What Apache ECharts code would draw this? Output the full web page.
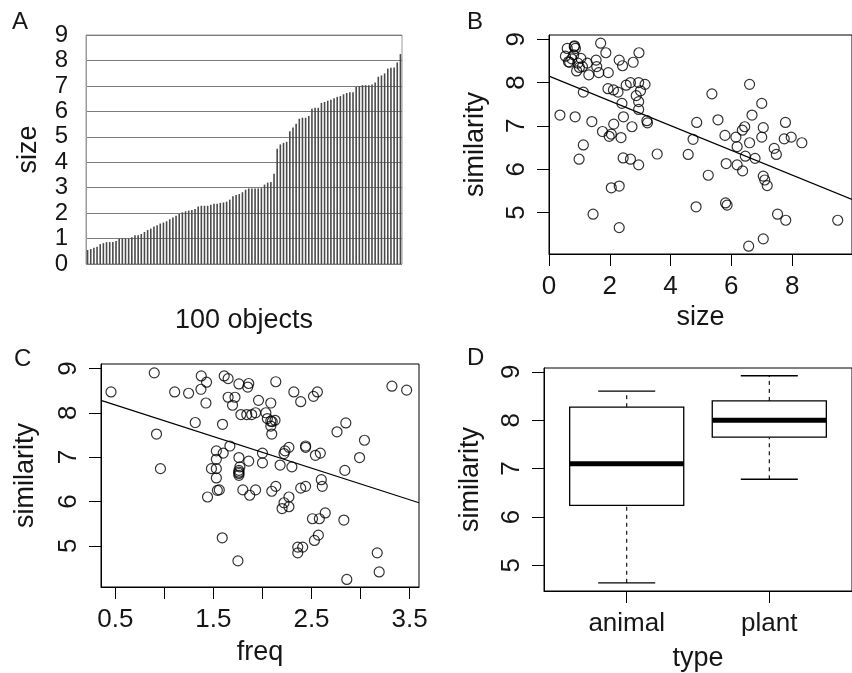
<!DOCTYPE html>
<html>
<head>
<meta charset="utf-8">
<title>similarity panels</title>
<script src="https://cdn.jsdelivr.net/npm/echarts@6/dist/echarts.min.js"></script>
<style>
  html, body { margin: 0; padding: 0; background: #fff; }
  #chart { width: 852px; height: 673px; }
</style>
</head>
<body>
<div id="chart"></div>
<script>
'use strict';

// A: size of the 100 objects, sorted
var objectSizes = [
	0.55, 0.59, 0.64, 0.68, 0.78, 0.82, 0.86, 0.86, 0.86, 0.90,
	1.00, 1.00, 1.00, 1.00, 1.05, 1.13, 1.13, 1.18, 1.26, 1.34,
	1.39, 1.47, 1.52, 1.59, 1.63, 1.68, 1.76, 1.83, 1.90, 1.97,
	2.03, 2.07, 2.10, 2.12, 2.16, 2.26, 2.29, 2.29, 2.29, 2.33,
	2.37, 2.37, 2.40, 2.42, 2.45, 2.53, 2.66, 2.71, 2.75, 2.82,
	2.92, 2.97, 2.97, 2.97, 2.97, 2.98, 3.12, 3.20, 3.22, 3.55,
	4.53, 4.70, 4.76, 4.80, 5.22, 5.36, 5.51, 5.71, 5.75, 5.75,
	5.82, 6.10, 6.14, 6.14, 6.33, 6.37, 6.42, 6.46, 6.51, 6.57,
	6.60, 6.67, 6.72, 6.75, 6.75, 6.96, 6.99, 7.03, 7.03, 7.03,
	7.05, 7.13, 7.36, 7.41, 7.49, 7.68, 7.71, 7.72, 7.92, 8.25
];

// B: similarity against size
var bSize = [
	0.60, 0.83, 0.87, 0.54, 0.64, 0.81, 1.05, 1.10, 0.91, 0.68,
	1.26, 1.31, 1.55, 1.57, 1.64, 1.70, 1.87, 1.95, 2.31, 2.42,
	2.77, 2.96, 1.13, 0.36, 0.86, 1.41, 1.13, 0.99, 1.45, 1.94,
	2.12, 2.27, 2.40, 2.54, 2.68, 2.95, 3.16, 3.01, 2.87, 2.95,
	2.95, 3.22, 3.24, 2.45, 2.73, 1.76, 2.13, 2.05, 2.37, 2.44,
	2.68, 2.95, 2.05, 2.31, 2.31, 3.56, 1.98, 4.58, 4.74, 4.86,
	4.84, 5.24, 5.36, 5.56, 5.79, 5.83, 5.81, 5.86, 6.15, 6.19,
	6.19, 6.37, 6.36, 6.44, 6.46, 6.60, 6.60, 6.68, 6.78, 7.00,
	7.05, 7.00, 7.05, 7.10, 7.18, 6.57, 7.05, 7.41, 7.48, 7.52,
	7.78, 7.79, 7.74, 7.97, 8.32, 9.50, 0.75, 0.95, 1.00, 0.84
];
var bSim = [
	8.79, 8.83, 8.79, 8.61, 8.48, 8.64, 8.56, 8.37, 8.27, 8.47,
	8.45, 8.18, 8.52, 8.37, 8.23, 8.91, 8.69, 8.23, 8.52, 8.39,
	8.47, 8.69, 7.78, 7.25, 7.21, 7.10, 6.56, 6.23, 4.96, 7.86,
	7.83, 7.78, 7.52, 7.94, 8.00, 8.00, 7.96, 7.81, 7.70, 7.56,
	7.38, 7.12, 7.07, 7.21, 6.98, 6.87, 7.04, 6.81, 6.73, 6.26,
	6.23, 6.10, 5.57, 5.61, 4.65, 6.35, 6.76, 6.34, 6.69, 7.08,
	5.13, 5.86, 7.74, 7.14, 6.78, 6.13, 5.22, 5.17, 6.74, 6.52,
	6.10, 5.96, 6.90, 6.98, 6.30, 7.96, 6.61, 7.25, 6.25, 7.52,
	6.96, 6.74, 5.84, 5.75, 5.62, 4.22, 4.39, 6.48, 6.34, 4.96,
	7.08, 4.82, 6.70, 6.74, 6.61, 4.82, 8.55, 8.45, 8.35, 8.85
];
var bFitSize = [0, 9.97];
var bFitSim = [8.15, 5.30];
var sizeTicksB = [0, 2, 4, 6, 8];

// C: similarity against freq
var cFreq = [
	0.456, 0.897, 1.105, 1.247, 1.376, 1.430, 1.373, 1.424, 1.610, 1.650,
	1.760, 1.860, 1.850, 1.650, 1.720, 1.695, 1.960, 1.780, 1.840, 1.890,
	1.930, 1.315, 1.593, 0.920, 0.960, 1.668, 1.530, 1.600, 1.530, 1.480,
	1.530, 1.530, 1.540, 1.560, 1.440, 1.760, 1.860, 1.770, 1.760, 1.760,
	1.760, 1.800, 1.870, 1.930, 1.590, 1.750, 2.136, 2.085, 2.035, 2.050,
	2.085, 2.128, 2.085, 2.095, 2.320, 2.390, 2.520, 2.560, 3.320, 3.470,
	2.850, 2.760, 3.040, 2.990, 2.840, 2.440, 2.440, 2.270, 2.230, 2.220,
	2.540, 2.590, 2.000, 2.000, 2.180, 2.300, 2.600, 2.610, 2.095, 2.136,
	2.390, 2.440, 2.270, 2.220, 2.200, 2.270, 2.510, 2.580, 2.640, 2.830,
	2.530, 2.570, 2.360, 2.410, 2.360, 3.170, 3.190, 2.860, 1.760, 2.100
];
var cSim = [
	8.47, 8.90, 8.47, 8.44, 8.83, 8.69, 8.53, 8.22, 8.83, 8.77,
	8.65, 8.66, 8.58, 8.35, 8.35, 8.17, 8.28, 7.96, 7.96, 7.96,
	8.00, 7.78, 7.74, 7.52, 6.74, 7.25, 7.14, 7.09, 6.95, 6.74,
	6.74, 6.53, 6.25, 6.26, 6.10, 6.99, 6.91, 6.78, 6.70, 6.63,
	6.59, 6.26, 6.14, 6.26, 5.18, 4.66, 8.70, 8.22, 8.00, 7.87,
	7.81, 7.83, 7.70, 7.52, 8.47, 8.25, 8.37, 8.47, 8.60, 8.51,
	7.77, 7.57, 7.38, 6.99, 6.70, 7.25, 7.22, 7.22, 7.14, 7.08,
	7.04, 7.09, 7.09, 6.87, 6.82, 6.78, 6.49, 6.34, 6.23, 6.34,
	6.30, 6.34, 6.10, 5.97, 5.84, 5.88, 5.61, 5.61, 5.74, 5.58,
	5.12, 5.24, 4.97, 4.97, 4.84, 4.84, 4.41, 4.24, 6.66, 7.80
];
var cFitFreq = [0.354, 3.596];
var cFitSim = [8.28, 5.97];
var freqTicks = [0.5, 1, 1.5, 2, 2.5, 3, 3.5];
var freqLabels = [0.5, 1.5, 2.5, 3.5];

// D: similarity by type
var boxTypes = ['animal', 'plant'];
var boxLow = [4.64, 6.78];
var boxQ1 = [6.24, 7.65];
var boxMedian = [7.10, 8.00];
var boxQ3 = [8.27, 8.40];
var boxHigh = [8.60, 8.92];

var simTicks = [5, 6, 7, 8, 9];


(function(window, undefined){

	var FONT = '"Liberation Sans", Arial, Helvetica, sans-serif',
			INK = '#161616';

	function zip(xs, ys){
		return xs.map(function(v, i){ return [v, ys[i]]; });
	}

	function text(size){
		return { fontSize: size, color: INK, fontFamily: FONT };
	}

	/**
	 * R-style value axis: ticks only where asked, no split lines
	 */
	function rAxis(gridIndex, min, max, ticks, labels, opt){
		var axis = {
			gridIndex: gridIndex,
			type: 'value',
			min: min,
			max: max,
			axisLine: { show: true, lineStyle: { color: '#000', width: 1 } },
			axisTick: { show: true, length: 12, customValues: ticks, lineStyle: { color: '#000', width: 1 } },
			axisLabel: Object.assign({ customValues: labels, margin: 20 }, text(26)),
			splitLine: { show: false },
			nameLocation: 'middle',
			nameTextStyle: text(27),
		};
		return Object.assign(axis, opt);
	}

	function rotatedSim(){
		return Object.assign({ customValues: simTicks, margin: 19, rotate: 90 }, text(26));
	}

	function renderBox(params, api){
		var x = api.value(0),
				lo = api.value(1), q1 = api.value(2), med = api.value(3),
				q3 = api.value(4), hi = api.value(5),
				half = 0.4, cap = 0.2;

		var p = function(a, b){ return api.coord([a, b]); };
		var seg = function(a, b, style){
			return { type: 'line', shape: { x1: a[0], y1: a[1], x2: b[0], y2: b[1] }, style: style };
		};
		var dashed = { stroke: '#000', lineWidth: 1.1, lineDash: [4, 4] },
				solid = { stroke: '#000', lineWidth: 1.3 };

		var tl = p(x - half, q3), br = p(x + half, q1);

		return {
			type: 'group',
			children: [
				seg(p(x, q3), p(x, hi), dashed),
				seg(p(x, lo), p(x, q1), dashed),
				seg(p(x - cap, hi), p(x + cap, hi), solid),
				seg(p(x - cap, lo), p(x + cap, lo), solid),
				{
					type: 'rect',
					shape: { x: tl[0], y: tl[1], width: br[0] - tl[0], height: br[1] - tl[1] },
					style: { fill: '#fff', stroke: '#000', lineWidth: 1.3 },
				},
				seg(p(x - half, med), p(x + half, med), { stroke: '#000', lineWidth: 5 }),
			],
		};
	}

	var letters = [
		{ text: 'A', left: 12, top: 10 },
		{ text: 'B', left: 467, top: 10 },
		{ text: 'C', left: 14, top: 347 },
		{ text: 'D', left: 467, top: 346 },
	].map(function(t){
		t.padding = 0;
		t.textStyle = Object.assign({ fontWeight: 'normal' }, text(24));
		return t;
	});

	var objectIds = objectSizes.map(function(v, i){ return String(i + 1); });
	var boxData = boxTypes.map(function(t, i){
		return [i + 1, boxLow[i], boxQ1[i], boxMedian[i], boxQ3[i], boxHigh[i]];
	});

	var hollow = { color: 'rgba(0,0,0,0)', borderColor: '#000', borderWidth: 1.2 };

	var option = {
		animation: false,
		backgroundColor: '#fff',
		title: letters,
		grid: [
			{ left: 86, top: 35, width: 316, height: 229, show: true, borderColor: '#9a9a9a', borderWidth: 1 },
			{ left: 549, top: 35, width: 316, height: 219, show: true, borderColor: '#000', borderWidth: 1 },
			{ left: 101, top: 364, width: 318, height: 223, show: true, borderColor: '#000', borderWidth: 1 },
			{ left: 544, top: 368, width: 320, height: 224, show: true, borderColor: '#000', borderWidth: 1 },
		],
		xAxis: [
			{
				gridIndex: 0,
				type: 'category',
				data: objectIds,
				axisLine: { show: false },
				axisTick: { show: false },
				axisLabel: { show: false },
				name: '100 objects',
				nameLocation: 'middle',
				nameGap: 43,
				nameTextStyle: text(27),
			},
			rAxis(1, 0, 9.97, sizeTicksB, sizeTicksB, { name: 'size', nameGap: 50 }),
			rAxis(2, 0.354, 3.596, freqTicks, freqLabels, {
				name: 'freq',
				nameGap: 52,
				axisLabel: Object.assign({ customValues: freqLabels, margin: 20,
					formatter: function(v){ return v.toFixed(1); } }, text(26)),
			}),
			rAxis(3, 0.42, 2.58, [1, 2], [1, 2], {
				name: 'type',
				nameGap: 54,
				axisLabel: Object.assign({ customValues: [1, 2], margin: 20,
					formatter: function(v){ return boxTypes[Math.round(v) - 1] || ''; } }, text(26)),
			}),
		],
		yAxis: [
			{
				gridIndex: 0,
				type: 'value',
				min: 0,
				max: 9,
				interval: 1,
				axisLine: { show: true, lineStyle: { color: '#9a9a9a' } },
				axisTick: { show: false },
				axisLabel: Object.assign({ margin: 18 }, text(24)),
				splitLine: { show: true, lineStyle: { color: '#7c7c7c', width: 1 } },
				name: 'size',
				nameLocation: 'middle',
				nameGap: 44,
				nameTextStyle: text(27),
			},
			rAxis(1, 4.04, 9.1, simTicks, simTicks, { name: 'similarity', nameGap: 60, axisLabel: rotatedSim() }),
			rAxis(2, 4.07, 9.1, simTicks, simTicks, { name: 'similarity', nameGap: 62, axisLabel: rotatedSim() }),
			rAxis(3, 4.47, 9.08, simTicks, simTicks, { name: 'similarity', nameGap: 60, axisLabel: rotatedSim() }),
		],
		series: [
			{
				type: 'bar',
				xAxisIndex: 0,
				yAxisIndex: 0,
				data: objectSizes,
				barWidth: 1.6,
				itemStyle: { color: '#4a4a4a' },
			},
			{
				type: 'scatter',
				xAxisIndex: 1,
				yAxisIndex: 1,
				data: zip(bSize, bSim),
				symbol: 'circle',
				symbolSize: 10,
				itemStyle: hollow,
			},
			{
				type: 'line',
				xAxisIndex: 1,
				yAxisIndex: 1,
				data: zip(bFitSize, bFitSim),
				showSymbol: false,
				lineStyle: { color: '#000', width: 1.1 },
			},
			{
				type: 'scatter',
				xAxisIndex: 2,
				yAxisIndex: 2,
				data: zip(cFreq, cSim),
				symbol: 'circle',
				symbolSize: 10,
				itemStyle: hollow,
			},
			{
				type: 'line',
				xAxisIndex: 2,
				yAxisIndex: 2,
				data: zip(cFitFreq, cFitSim),
				showSymbol: false,
				lineStyle: { color: '#000', width: 1.1 },
			},
			{
				type: 'custom',
				xAxisIndex: 3,
				yAxisIndex: 3,
				data: boxData,
				encode: { x: 0, y: [1, 2, 3, 4, 5] },
				renderItem: renderBox,
			},
		],
	};

	echarts.init(document.getElementById('chart')).setOption(option);

})(typeof window !== 'undefined' ? window : this, undefined);
</script>
</body>
</html>
